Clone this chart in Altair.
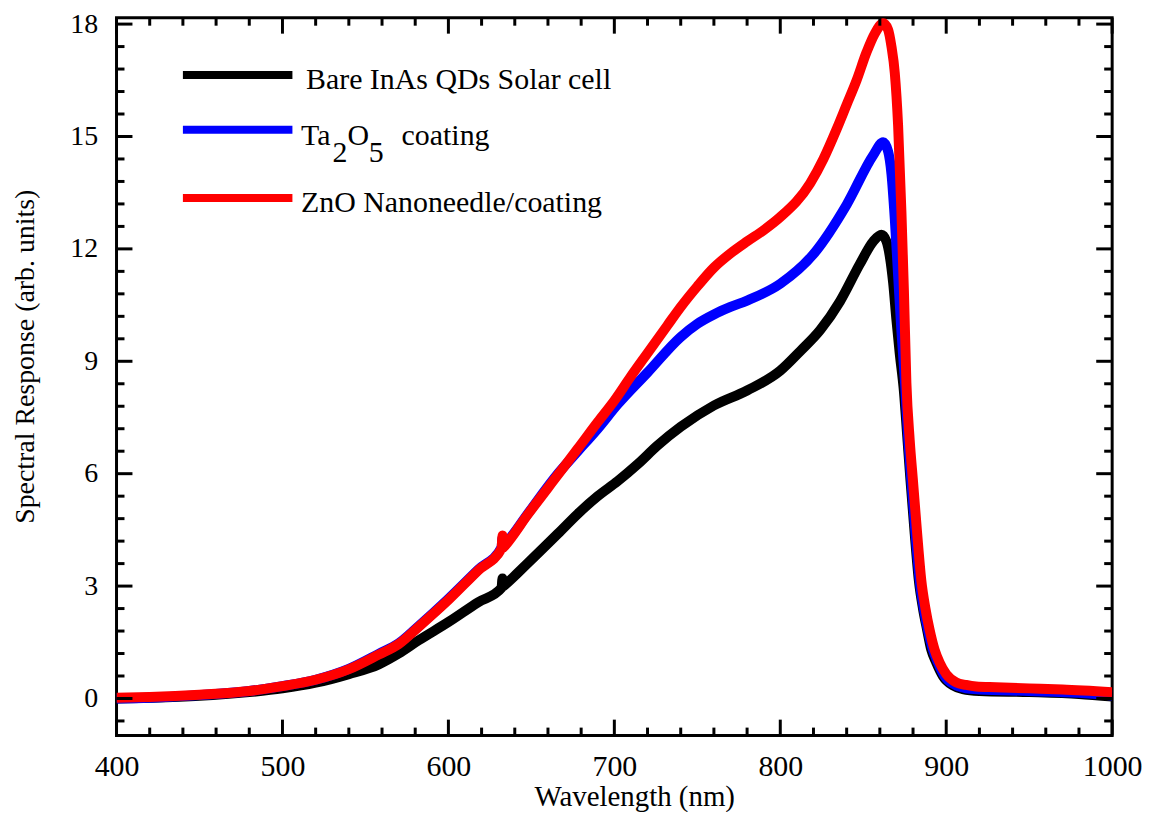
import altair as alt
import pandas as pd

# ---- data ----
wl_bare = [400, 420, 450, 480, 500, 520, 540, 558, 570, 582, 600, 618, 632, 632.6, 633.2, 634, 648, 666,
           678, 690, 702, 714, 726, 740, 760, 780, 800, 812, 824, 836, 848, 856, 861, 864, 866, 868, 870,
           872, 874.5, 876.5, 878.5, 881, 883.5, 886, 888.5, 891, 894, 898, 904, 910, 920, 950, 980, 1000]
sr_bare = [0.0, 0.02, 0.07, 0.17, 0.27, 0.42, 0.65, 0.91, 1.2, 1.55, 2.04, 2.57, 2.95, 3.2, 3.0, 3.03,
           3.62, 4.4, 4.93, 5.4, 5.8, 6.25, 6.75, 7.25, 7.82, 8.22, 8.75, 9.27, 9.83, 10.6, 11.6, 12.2,
           12.38, 12.2, 11.8, 11.1, 10.1, 9.2, 8.2, 7.0, 5.8, 4.4, 3.15, 2.4, 1.83, 1.3, 0.96, 0.6, 0.35,
           0.25, 0.2, 0.17, 0.12, 0.05]

wl_ta = [400, 420, 450, 480, 500, 520, 540, 558, 570, 582, 600, 618, 632, 632.6, 633.2, 634, 648, 666,
         678, 690, 702, 720, 740, 750, 760, 770, 780, 800, 820, 840, 856, 862, 865, 867, 869, 871, 873,
         875.2, 877, 879, 881.5, 884, 886.5, 889, 892, 895, 899, 905, 912, 920, 950, 980, 1000]
sr_ta = [0.0, 0.02, 0.09, 0.2, 0.33, 0.5, 0.79, 1.19, 1.47, 1.93, 2.66, 3.44, 4.03, 4.28, 4.06, 4.1, 4.94,
         6.0, 6.6, 7.2, 7.85, 8.7, 9.65, 10.0, 10.25, 10.45, 10.62, 11.07, 11.86, 13.18, 14.5, 14.85,
         14.6, 14.0, 12.8, 11.3, 9.8, 8.4, 7.0, 5.8, 4.4, 3.15, 2.4, 1.83, 1.3, 0.96, 0.6, 0.37, 0.27,
         0.24, 0.2, 0.15, 0.08]

wl_zno = [400, 420, 450, 480, 500, 520, 540, 558, 570, 582, 600, 618, 632, 632.6, 633.2, 634, 648, 666,
          678, 690, 700, 710, 720, 732, 740, 750, 760, 770, 780, 790, 800, 818, 826, 834, 840, 846, 852,
          857, 862, 865, 867, 869, 871, 873, 874.5, 876, 878, 880, 882.5, 885, 887.5, 890, 893, 896, 900,
          906, 912, 918, 930, 950, 970, 1000]
sr_zno = [0.02, 0.04, 0.1, 0.2, 0.33, 0.5, 0.78, 1.17, 1.45, 1.91, 2.63, 3.42, 4.0, 4.35, 4.03, 4.07,
          4.92, 5.97, 6.67, 7.38, 7.95, 8.6, 9.22, 9.96, 10.45, 11.0, 11.5, 11.88, 12.2, 12.5, 12.85,
          13.75, 14.4, 15.2, 15.85, 16.5, 17.25, 17.75, 18.02, 17.85, 17.4, 16.7, 15.3, 13.0, 10.9, 8.43,
          6.9, 5.79, 4.4, 3.15, 2.4, 1.83, 1.3, 0.96, 0.65, 0.43, 0.36, 0.32, 0.3, 0.27, 0.24, 0.17]

series_names = ["Bare InAs QDs Solar cell", "Ta2O5 coating", "ZnO Nanoneedle/coating"]
series_colors = ["#000000", "#0000ff", "#ff0000"]

x_major = [400, 500, 600, 700, 800, 900, 1000]
x_minor = [420, 440, 460, 480, 520, 540, 560, 580, 620, 640, 660, 680, 720, 740, 760, 780,
           820, 840, 860, 880, 920, 940, 960, 980]
y_major = [0, 3, 6, 9, 12, 15, 18]
y_minor = [-0.6, 0.6, 1.2, 1.8, 2.4, 3.6, 4.2, 4.8, 5.4, 6.6, 7.2, 7.8, 8.4, 9.6, 10.2, 10.8, 11.4,
           12.6, 13.2, 13.8, 14.4, 15.6, 16.2, 16.8, 17.4]

# ---- layout / style ----
W, H = 1000, 721
FONT = "Liberation Serif"
xs = alt.Scale(domain=[400, 1000], nice=False, zero=False)
ys = alt.Scale(domain=[-0.99, 18.17], nice=False, zero=False)
MAJ, MIN = 16, 8

x_axis = alt.Axis(values=x_major, format="d", title="Wavelength (nm)", grid=False, ticks=False,
                  domain=False, labelFont=FONT, labelFontSize=30, labelColor="black", labelPadding=16,
                  titleFont=FONT, titleFontSize=29, titleFontWeight="normal", titleColor="black",
                  titleX=520, titleY=70, titleBaseline="alphabetic", titleAlign="center",
                  labelFlush=False, labelOverlap=False)
y_axis = alt.Axis(values=y_major, format="d", title="Spectral Response (arb. units)", grid=False,
                  ticks=False, domain=False, labelFont=FONT, labelFontSize=28, labelColor="black",
                  labelPadding=19, titleFont=FONT, titleFontSize=28, titleFontWeight="normal",
                  titleColor="black", titleX=-77, titleY=340, titleAlign="center",
                  labelFlush=False, labelOverlap=False)


def X(field):
    return alt.X(field, scale=xs, axis=x_axis)


def Y(field):
    return alt.Y(field, scale=ys, axis=y_axis)


def series_layer(wl, sr, name, color):
    df = pd.DataFrame({"wl": wl, "sr": sr, "series": name})
    return alt.Chart(df).mark_line(strokeWidth=10, color=color, clip=True,
                                   interpolate="monotone").encode(
        x=X("wl:Q"), y=Y("sr:Q"))


layers = [
    series_layer(wl_bare, sr_bare, series_names[0], series_colors[0]),
    series_layer(wl_ta, sr_ta, series_names[1], series_colors[1]),
    series_layer(wl_zno, sr_zno, series_names[2], series_colors[2]),
]


def xticks(vals, y0, y1):
    return alt.Chart(pd.DataFrame({"wl": vals})).mark_rule(color="black", strokeWidth=3).encode(
        x=X("wl:Q"), y=alt.value(y0), y2=alt.value(y1))


def yticks(vals, x0, x1):
    return alt.Chart(pd.DataFrame({"sr": vals})).mark_rule(color="black", strokeWidth=3).encode(
        y=Y("sr:Q"), x=alt.value(x0), x2=alt.value(x1))


layers += [
    xticks(x_major, H, H - MAJ), xticks(x_minor, H, H - MIN),
    xticks(x_major, 0, MAJ), xticks(x_minor, 0, MIN),
    yticks(y_major, 0, MAJ), yticks(y_minor, 0, MIN),
    yticks(y_major, W, W - MAJ), yticks(y_minor, W, W - MIN),
]

# ---- legend drawn inside the plot ----
leg_x0, leg_x1 = 440, 506
leg_line_y = [16.64, 15.18, 13.36]
leg_df = pd.DataFrame({"wl": [leg_x0] * 3, "wl2": [leg_x1] * 3, "sr": leg_line_y,
                       "series": series_names})
layers.append(alt.Chart(leg_df).mark_rule(strokeWidth=8).encode(
    x=X("wl:Q"), x2="wl2:Q", y=Y("sr:Q"),
    color=alt.Color("series:N", scale=alt.Scale(domain=series_names, range=series_colors),
                    legend=None)))

label_txt = ["Bare InAs QDs Solar cell", "Ta", "2", "O", "5", "coating", "ZnO Nanoneedle/coating"]
label_x = [514.2, 511.2, 530.2, 539.2, 552.0, 571.8, 511.2]
label_y = [16.26, 14.76, 14.32, 14.76, 14.32, 14.76, 12.98]
lab_df = pd.DataFrame({"wl": label_x, "sr": label_y, "txt": label_txt})
layers.append(alt.Chart(lab_df).mark_text(font=FONT, fontSize=30, color="black", align="left",
                                          baseline="alphabetic").encode(
    x=X("wl:Q"), y=Y("sr:Q"), text="txt:N"))

chart = alt.layer(*layers).properties(
    width=W, height=H,
    autosize=alt.AutoSizeParams(type="none"),
    padding={"left": 109, "top": 8, "right": 36, "bottom": 75},
).configure_view(stroke="black", strokeWidth=3)

chart.save("out.html", embed_options={"renderer": "svg", "actions": False})
